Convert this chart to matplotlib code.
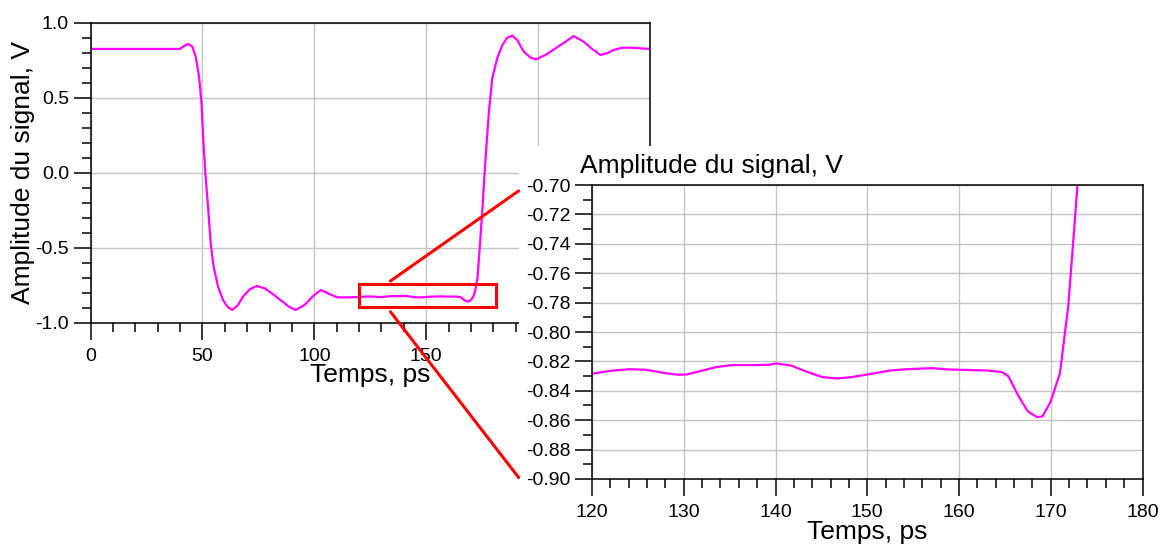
import numpy as np
import matplotlib
matplotlib.use("Agg")
import matplotlib.pyplot as plt
from matplotlib.patches import Rectangle, ConnectionPatch
from matplotlib.ticker import MultipleLocator, FormatStrFormatter

plt.rcParams.update({"font.family": ["Liberation Sans", "DejaVu Sans"],
                     "axes.unicode_minus": False})

# signal (time in ps, amplitude in V)
t_ps = [0, 35.4, 39.9, 42.1, 43.9, 45.5, 47.0, 48.5, 49.6, 50.3, 51.3, 52.5,
        53.7, 55.0, 57.0, 59.2, 61.4, 63.4, 65.9, 68.1, 71.1, 74.3, 77.8,
        81.5, 84.4, 85.9, 88.8, 91.6, 95.6, 100.0, 103.0, 106.7, 110.4,
        114.5, 118.6, 120, 122, 124.1, 125.9, 128, 129.4, 130.3, 131.7, 133.5,
        135.2, 137.7, 139.3, 140.1, 141.7, 143.3, 145.1, 146.7, 148.3, 150.2,
        152.5, 154.3, 157.1, 158.9, 161.3, 163.1, 164.7, 165.4, 166.4, 167.5,
        168.5, 169.1, 170, 171, 171.9, 172.6, 172.9, 173.4, 174.0, 175.2,
        176.0, 176.6, 178.0, 179.5, 181.7, 184.0, 186.2, 188.4, 190.6, 193.6,
        196.6, 199.1, 203.3, 207.8, 212.2, 215.9, 220.4, 224.1, 227.8, 230.8,
        233.7, 237.4, 241.9, 250]
v_signal = [0.825, 0.825, 0.825, 0.847, 0.858, 0.84, 0.773, 0.64, 0.463,
            0.24, -0.004, -0.227, -0.471, -0.627, -0.76, -0.849, -0.897,
            -0.915, -0.882, -0.827, -0.778, -0.755, -0.771, -0.809, -0.844,
            -0.86, -0.895, -0.915, -0.882, -0.815, -0.782, -0.809, -0.831,
            -0.831, -0.830, -0.8284, -0.8264, -0.8253, -0.8257, -0.828,
            -0.8291, -0.8289, -0.8268, -0.8239, -0.8225, -0.8225, -0.8223,
            -0.8214, -0.8228, -0.8268, -0.8307, -0.8316, -0.8307, -0.8287,
            -0.8262, -0.8253, -0.8246, -0.8255, -0.8259, -0.8262, -0.8273,
            -0.8302, -0.8427, -0.854, -0.8579, -0.8574, -0.8472, -0.828,
            -0.7827, -0.726, -0.701, -0.60, -0.48, -0.22, -0.02, 0.118, 0.407,
            0.629, 0.763, 0.851, 0.90, 0.913, 0.885, 0.807, 0.767, 0.756,
            0.785, 0.829, 0.873, 0.911, 0.873, 0.825, 0.785, 0.796, 0.818,
            0.833, 0.833, 0.825]

# main plot x ticks; labels under the zoomed plot are not shown
main_xticks = [0, 50, 100, 150, 200, 250]
main_xlabels = ["0", "50", "100", "150", "", ""]

zoom_t = (120, 181)
zoom_v = (-0.895, -0.745)

xlabel = "Temps, ps"
ylabel = "Amplitude du signal, V"
col = "#ff00ff"
tick_fs = 14
lab_fs = 19


def style(ax):
    ax.tick_params(which="both", direction="out", width=1.1, color="k",
                   labelsize=tick_fs)
    ax.tick_params(which="major", length=12)
    ax.tick_params(which="minor", length=6.5)
    ax.tick_params(axis="x", which="both", pad=6.1)
    ax.tick_params(axis="y", which="both", pad=3.5)
    for s in ax.spines.values():
        s.set_linewidth(1.1)
    ax.grid(True, which="major", color="#c4c4c4", lw=1.0)
    ax.set_axisbelow(True)


fig = plt.figure(figsize=(11.65, 5.44), dpi=100)

# main plot
ax1 = fig.add_axes([0.0777, 0.4068, 0.4803, 0.5515])
ax1.set_zorder(0)
ax1.plot(t_ps, v_signal, color=col, lw=1.6, solid_joinstyle="round")
ax1.set_xticks(main_xticks, main_xlabels)
ax1.set_xlim(0, 250)
ax1.set_ylim(-1.0, 1.0)
ax1.xaxis.set_minor_locator(MultipleLocator(10))
ax1.yaxis.set_major_locator(MultipleLocator(0.5))
ax1.yaxis.set_minor_locator(MultipleLocator(0.1))
ax1.yaxis.set_major_formatter(FormatStrFormatter("%.1f"))
style(ax1)
ax1.set_xlabel(xlabel, fontsize=lab_fs, labelpad=-1.3)
ax1.set_ylabel(ylabel, fontsize=lab_fs, labelpad=0)
ax1.add_patch(Rectangle((zoom_t[0], zoom_v[0]), zoom_t[1] - zoom_t[0],
                        zoom_v[1] - zoom_v[0], fill=False, ec="red", lw=2.2,
                        zorder=4))

# white area under the zoomed plot
fig.add_artist(Rectangle((0.4455, 0.0), 0.6, 0.7315, transform=fig.transFigure,
                         fc="white", ec="none", zorder=1))

# zoomed plot
ax2 = fig.add_axes([0.5082, 0.1195, 0.4725, 0.5404])
ax2.set_zorder(2)
ax2.plot(t_ps, v_signal, color=col, lw=1.6, solid_joinstyle="round")
ax2.set_xlim(120, 180)
ax2.set_ylim(-0.90, -0.70)
ax2.xaxis.set_major_locator(MultipleLocator(10))
ax2.xaxis.set_minor_locator(MultipleLocator(2))
ax2.yaxis.set_major_locator(MultipleLocator(0.02))
ax2.yaxis.set_minor_locator(MultipleLocator(0.01))
ax2.yaxis.set_major_formatter(FormatStrFormatter("%.2f"))
style(ax2)
ax2.set_xlabel(xlabel, fontsize=lab_fs, labelpad=-0.8)
ax2.text(-0.022, 1.042, ylabel, transform=ax2.transAxes, fontsize=lab_fs,
         ha="left", va="baseline")

# connecting lines
for ya, yb in [(-0.722, -0.704), (-0.927, -0.899)]:
    con = ConnectionPatch(xyA=(134, ya), coordsA="data", axesA=ax1,
                          xyB=(112, yb), coordsB="data", axesB=ax2,
                          color="red", lw=2.2)
    con.set_annotation_clip(False)
    con.set_zorder(3)
    fig.add_artist(con)

fig.savefig("out.png", dpi=100)
